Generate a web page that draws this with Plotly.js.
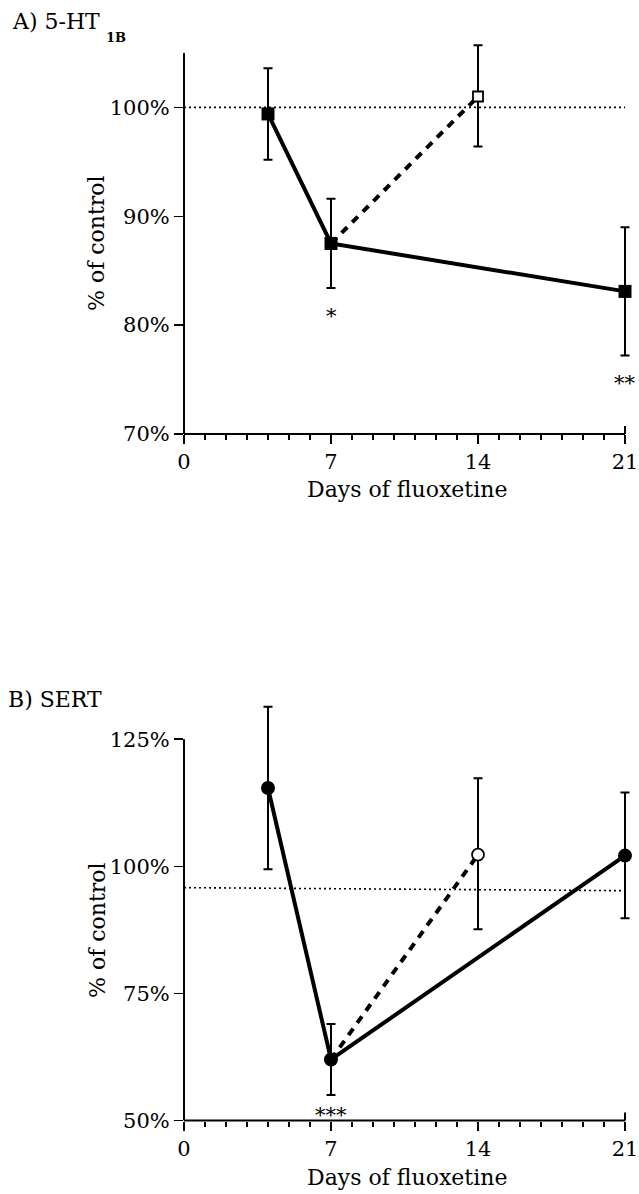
<!DOCTYPE html>
<html>
<head>
<meta charset="utf-8">
<script src="https://cdn.plot.ly/plotly-3.0.1.min.js"></script>
<style>html,body{margin:0;padding:0;background:#fff;}#chart{width:639px;height:1194px;}</style>
</head>
<body>
<div id="chart"></div>
<script>
// ---------- data ----------
const xTickVals = [0, 7, 14, 21];
const xTickText = ['0', '7', '14', '21'];

// Panel A: 5-HT1B
const refDaysA = [0, 21];
const refA = [100, 100];
const daysA = [4, 7, 21];
const meanA = [99.4, 87.5, 83.1];
const upperA = [103.6, 91.6, 89.0];
const lowerA = [95.2, 83.4, 77.2];
const washDaysA = [7, 14];
const washMeanA = [87.5, 101.0];
const openDaysA = [14];
const openMeanA = [101.0];
const openUpperA = [105.7];
const openLowerA = [96.4];
const sigDaysA = [7, 21];
const sigYA = [81.1, 75.0];
const sigTextA = ['*', '**'];
const yTickValsA = [70, 80, 90, 100];
const yTickTextA = ['70%', '80%', '90%', '100%'];

// Panel B: SERT
const refDaysB = [0, 21];
const refB = [95.8, 95.2];
const daysB = [4, 7, 21];
const meanB = [115.4, 62.0, 102.1];
const upperB = [131.4, 69.0, 114.5];
const lowerB = [99.4, 55.0, 89.8];
const washDaysB = [7, 14];
const washMeanB = [62.0, 102.3];
const openDaysB = [14];
const openMeanB = [102.3];
const openUpperB = [117.3];
const openLowerB = [87.6];
const sigDaysB = [7];
const sigYB = [51.7];
const sigTextB = ['***'];
const yTickValsB = [50, 75, 100, 125];
const yTickTextB = ['50%', '75%', '100%', '125%'];

// ---------- helpers ----------
const W = 639, H = 1194;
const FONT = 'DejaVu Serif, Liberation Serif, serif';
const fx = p => p / W;
const fy = p => 1 - p / H;
const plus = (u, m) => u.map((v, i) => +(v - m[i]).toFixed(2));
const minus = (l, m) => l.map((v, i) => +(m[i] - v).toFixed(2));

// x scale: day 0 at 184px, day 21 at 625px; range padded so end caps are not clipped
const X0 = 184, X21 = 625, PXDAY = (X21 - X0) / 21, XMAX = 21.4;

function panelTraces(xa, ya, refDays, ref, days, mean, upper, lower, washDays, washMean,
                     openDays, openMean, openUpper, openLower, symbol, size, openSize) {
  return [
    {x: refDays, y: ref, xaxis: xa, yaxis: ya, mode: 'lines', hoverinfo: 'skip',
     line: {color: '#000', width: 1.6, dash: '2px,3px'}},
    {x: washDays, y: washMean, xaxis: xa, yaxis: ya, mode: 'lines',
     line: {color: '#000', width: 4, dash: '8px,7px'}},
    {x: days, y: mean, xaxis: xa, yaxis: ya, mode: 'lines+markers', cliponaxis: false,
     line: {color: '#000', width: 4},
     marker: {symbol: symbol, size: size, color: '#000', line: {width: 0}},
     error_y: {type: 'data', symmetric: false, array: plus(upper, mean), arrayminus: minus(lower, mean),
               color: '#000', thickness: 2, width: 4.5}},
    {x: openDays, y: openMean, xaxis: xa, yaxis: ya, mode: 'markers', cliponaxis: false,
     marker: {symbol: symbol, size: openSize, color: '#fff', line: {color: '#000', width: 1.8}},
     error_y: {type: 'data', symmetric: false, array: plus(openUpper, openMean), arrayminus: minus(openLower, openMean),
               color: '#000', thickness: 2, width: 4.5}}
  ];
}

const data = [].concat(
  panelTraces('x', 'y', refDaysA, refA, daysA, meanA, upperA, lowerA, washDaysA, washMeanA,
              openDaysA, openMeanA, openUpperA, openLowerA, 'square', 13, 10),
  panelTraces('x2', 'y2', refDaysB, refB, daysB, meanB, upperB, lowerB, washDaysB, washMeanB,
              openDaysB, openMeanB, openUpperB, openLowerB, 'circle', 14, 12)
);

const xCommon = {
  range: [0, XMAX], domain: [fx(X0), fx(X0 + XMAX * PXDAY)], showline: false,
  ticks: 'outside', tickvals: xTickVals, ticktext: xTickText, ticklen: 9, tickwidth: 1.5, tickcolor: '#000',
  ticklabelstandoff: 0,
  minor: {tickmode: 'linear', tick0: 0, dtick: 1, ticks: 'outside', ticklen: 5, tickwidth: 1.2, tickcolor: '#000', showgrid: false},
  showgrid: false, zeroline: false, fixedrange: true,
  tickfont: {family: FONT, size: 21, color: '#000'}
};
const yCommon = {
  showline: false, ticks: 'outside', ticklen: 9, tickwidth: 1.5, tickcolor: '#000',
  showgrid: false, zeroline: false, fixedrange: true,
  tickfont: {family: FONT, size: 21, color: '#000'}
};

const annFont = (s) => ({family: FONT, size: s, color: '#000'});
const annotations = [
  {xref: 'paper', yref: 'paper', x: fx(10), y: fy(21), xanchor: 'left', yanchor: 'middle', showarrow: false,
   text: 'A) 5-HT', font: annFont(22)},
  {xref: 'paper', yref: 'paper', x: fx(104), y: fy(37), xanchor: 'left', yanchor: 'middle', showarrow: false,
   text: '<b>1B</b>', font: annFont(13)},
  {xref: 'paper', yref: 'paper', x: fx(6), y: fy(699), xanchor: 'left', yanchor: 'middle', showarrow: false,
   text: 'B) SERT', font: annFont(22)},
  {xref: 'paper', yref: 'paper', x: fx(407), y: fy(489), xanchor: 'center', yanchor: 'middle', showarrow: false,
   text: 'Days of fluoxetine', font: annFont(22)},
  {xref: 'paper', yref: 'paper', x: fx(407), y: fy(1177), xanchor: 'center', yanchor: 'middle', showarrow: false,
   text: 'Days of fluoxetine', font: annFont(22)},
  {xref: 'paper', yref: 'paper', x: fx(97), y: fy(243), xanchor: 'center', yanchor: 'middle', showarrow: false,
   text: '% of control', textangle: -90, font: annFont(22)},
  {xref: 'paper', yref: 'paper', x: fx(97), y: fy(930), xanchor: 'center', yanchor: 'middle', showarrow: false,
   text: '% of control', textangle: -90, font: annFont(22)}
];
sigDaysA.forEach((d, i) => annotations.push({xref: 'x', yref: 'y', x: d, y: sigYA[i], showarrow: false,
  xanchor: 'center', yanchor: 'middle', yshift: -3, text: sigTextA[i], font: annFont(21)}));
sigDaysB.forEach((d, i) => annotations.push({xref: 'x2', yref: 'y2', x: d, y: sigYB[i], showarrow: false,
  xanchor: 'center', yanchor: 'middle', yshift: -3, text: sigTextB[i], font: annFont(21)}));

const axLine = {color: '#000', width: 2};
const shapes = [
  // y axis lines (end at the top tick)
  {type: 'line', xref: 'paper', yref: 'y', x0: fx(X0), x1: fx(X0), y0: yTickValsA[0], y1: 105, line: axLine},
  {type: 'line', xref: 'paper', yref: 'y2', x0: fx(X0), x1: fx(X0), y0: yTickValsB[0], y1: 125, line: axLine},
  // x axis lines (day 0 to day 21)
  {type: 'line', xref: 'x', yref: 'paper', x0: 0, x1: 21, y0: fy(434), y1: fy(434), line: axLine},
  {type: 'line', xref: 'x2', yref: 'paper', x0: 0, x1: 21, y0: fy(1120.5), y1: fy(1120.5), line: axLine},
  // small upward end ticks at day 21
  {type: 'line', xref: 'x', yref: 'paper', x0: 21, x1: 21, y0: fy(434), y1: fy(426), line: axLine},
  {type: 'line', xref: 'x2', yref: 'paper', x0: 21, x1: 21, y0: fy(1120.5), y1: fy(1112.5), line: axLine}
];

const layout = {
  width: W, height: H, margin: {l: 0, r: 0, t: 0, b: 0},
  paper_bgcolor: '#fff', plot_bgcolor: '#fff', showlegend: false,
  xaxis: Object.assign({}, xCommon, {anchor: 'y'}),
  xaxis2: Object.assign({}, xCommon, {anchor: 'y2'}),
  yaxis: Object.assign({}, yCommon, {anchor: 'x', range: [70, 107], domain: [(H - 434) / H, (H - 31.2) / H],
                                      tickvals: yTickValsA, ticktext: yTickTextA}),
  yaxis2: Object.assign({}, yCommon, {anchor: 'x2', range: [50, 133], domain: [(H - 1120.5) / H, (H - 698.5) / H],
                                       tickvals: yTickValsB, ticktext: yTickTextB}),
  annotations: annotations,
  shapes: shapes
};

Plotly.newPlot('chart', data, layout, {displayModeBar: false, staticPlot: true});
</script>
</body>
</html>
